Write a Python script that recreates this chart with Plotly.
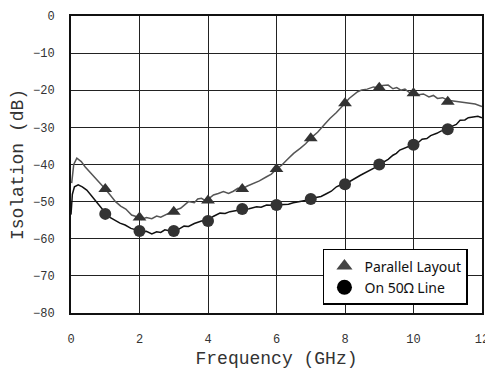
import plotly.graph_objects as go

# Parallel Layout (grey curve)
par_x = [0.02, 0.08, 0.17, 0.3, 0.41, 0.55, 0.7, 0.85, 1.0, 1.15, 1.3, 1.45, 1.6, 1.77, 1.9,
         2.06, 2.2, 2.36, 2.5, 2.62, 2.74, 2.9, 3.04, 3.2, 3.3, 3.43, 3.6, 3.7, 3.81, 3.9,
         4.0, 4.16, 4.3, 4.45, 4.6, 4.74, 4.87, 5.0, 5.15, 5.32, 5.5, 5.71, 5.85, 6.0, 6.15,
         6.3, 6.5, 6.7, 6.85, 7.0, 7.2, 7.4, 7.56, 7.75, 7.9, 8.0, 8.12, 8.24, 8.37, 8.49,
         8.65, 8.83, 9.0, 9.1, 9.26, 9.4, 9.51, 9.63, 9.75, 9.88, 10.0, 10.15, 10.29, 10.45,
         10.58, 10.7, 10.85, 11.0, 11.2, 11.36, 11.5, 11.65, 11.8, 12.0]
par_y = [-45.0, -40.0, -38.3, -39.2, -40.6, -42.0, -43.7, -45.0, -46.6, -48.3, -50.0, -51.2, -52.0, -53.6, -54.0,
         -54.8, -54.3, -54.6, -53.9, -54.2, -53.6, -53.0, -52.3, -51.8, -51.0, -50.0, -50.3, -49.3, -49.1, -49.6,
         -49.4, -48.2, -47.8, -47.3, -47.8, -47.2, -46.4, -46.5, -45.8, -45.1, -44.4, -43.3, -42.6, -41.2, -40.2,
         -38.8, -37.0, -35.6, -34.4, -32.9, -31.3, -29.2, -27.6, -26.0, -24.6, -23.5, -22.2, -21.3, -20.4, -19.9,
         -19.7, -19.1, -19.4, -18.7, -18.6, -19.6, -19.3, -20.0, -19.7, -20.6, -20.5, -21.2, -21.0, -21.8,
         -21.4, -22.2, -22.0, -22.7, -22.9, -23.1, -23.2, -23.5, -23.7, -24.4]

# On 50 Ohm Line (black curve)
l50_x = [0.0, 0.04, 0.1, 0.21, 0.33, 0.46, 0.58, 0.7, 0.85, 1.0, 1.15, 1.28, 1.43, 1.58, 1.75, 1.9,
         2.05, 2.2, 2.36, 2.5, 2.62, 2.74, 2.9, 3.0, 3.15, 3.3, 3.43, 3.6, 3.7, 3.81, 4.0, 4.15,
         4.35, 4.5, 4.64, 4.8, 5.0, 5.2, 5.42, 5.55, 5.71, 5.85, 6.0, 6.2, 6.35, 6.49, 6.7, 6.85,
         7.0, 7.15, 7.3, 7.47, 7.6, 7.75, 7.85, 8.0, 8.15, 8.3, 8.45, 8.6, 8.75, 8.9, 9.0, 9.12,
         9.26, 9.4, 9.5, 9.6, 9.75, 9.88, 10.0, 10.15, 10.25, 10.39, 10.5, 10.68, 10.8, 10.9, 11.0,
         11.15, 11.25, 11.36, 11.5, 11.6, 11.75, 11.88, 12.0]
l50_y = [-53.5, -48.0, -46.0, -45.5, -46.0, -46.9, -48.2, -49.6, -51.4, -53.0, -54.3, -55.0, -55.8, -56.3, -57.2, -57.6,
         -58.2, -58.0, -58.7, -58.1, -58.3, -57.6, -57.9, -57.7, -57.4, -56.6, -56.7, -55.9, -55.6, -55.2, -55.0, -54.0,
         -53.1, -53.2, -52.7, -52.4, -52.1, -51.9, -51.4, -51.5, -50.9, -51.0, -50.9, -50.6, -50.7, -50.3, -50.0, -49.7,
         -49.4, -48.9, -48.6, -47.8, -47.2, -46.0, -45.6, -45.3, -44.4, -43.7, -42.9, -42.2, -41.5, -40.7, -40.0, -39.4,
         -38.6, -37.5, -37.0, -36.1, -35.6, -35.0, -34.6, -34.0, -33.2, -33.0, -32.2, -31.6, -31.0, -30.8, -30.5,
         -29.6, -29.2, -28.1, -28.0, -27.4, -27.1, -27.0, -27.4]

# Markers at integer frequencies
mk_x = [1, 2, 3, 4, 5, 6, 7, 8, 9, 10, 11]
par_mk = [-46.6, -54.3, -52.7, -49.7, -46.6, -41.2, -32.9, -23.5, -19.3, -20.8, -23.1]
l50_mk = [-53.3, -57.9, -57.9, -55.2, -52.0, -50.9, -49.3, -45.3, -40.0, -34.7, -30.5]

x_ticks = [0, 2, 4, 6, 8, 10, 12]
y_ticks = [0, -10, -20, -30, -40, -50, -60, -70, -80]

fig = go.Figure()
fig.add_trace(go.Scatter(x=par_x, y=par_y, mode="lines",
                         line=dict(color="#555555", width=1.5), showlegend=False, hoverinfo="skip"))
fig.add_trace(go.Scatter(x=l50_x, y=l50_y, mode="lines",
                         line=dict(color="#111111", width=1.5), showlegend=False, hoverinfo="skip"))
fig.add_trace(go.Scatter(x=mk_x, y=par_mk, mode="markers",
                         marker=dict(symbol="triangle-up", size=12, color="#333333"), showlegend=False))
fig.add_trace(go.Scatter(x=mk_x, y=l50_mk, mode="markers",
                         marker=dict(symbol="circle", size=12, color="#333333"), showlegend=False))
# legend entries
fig.add_trace(go.Scatter(x=[None], y=[None], mode="markers", name="Parallel Layout",
                         marker=dict(symbol="triangle-up", size=14, color="#444444")))
fig.add_trace(go.Scatter(x=[None], y=[None], mode="markers", name="On 50\u03a9 Line",
                         marker=dict(symbol="circle", size=15, color="#000000")))

axis_font = dict(family="Liberation Mono, DejaVu Sans Mono, monospace", size=12, color="#333333")
title_font = dict(family="Liberation Mono, DejaVu Sans Mono, monospace", size=18, color="#333333")

# page body has an 8px default margin, so the figure is sized 8px smaller
fig.update_layout(
    width=485, height=361,
    margin=dict(l=63, r=11, t=8, b=56),
    paper_bgcolor="white", plot_bgcolor="white",
    showlegend=True,
    legend=dict(x=0.613, y=0.2155, xanchor="left", yanchor="top",
                bgcolor="white", bordercolor="#000000", borderwidth=1.5,
                font=dict(family="Noto Sans, Liberation Sans, sans-serif", size=14, color="#111111"),
                itemwidth=30, tracegroupgap=0),
    xaxis=dict(range=[0, 12], tickvals=x_ticks, ticktext=[str(v) for v in x_ticks],
               showgrid=True, gridcolor="#222222", gridwidth=1, zeroline=False,
               showline=True, linecolor="#111111", linewidth=2, mirror=True,
               ticks="", ticklabelstandoff=14, tickfont=axis_font, automargin=False,
               title=dict(text="Frequency (GHz)", font=title_font, standoff=6)),
    yaxis=dict(range=[-80, 0], tickvals=y_ticks, ticktext=[str(v).replace("-", "\u2212") for v in y_ticks],
               showgrid=True, gridcolor="#222222", gridwidth=1, zeroline=False,
               showline=True, linecolor="#111111", linewidth=2, mirror=True,
               ticks="", ticklabelstandoff=12, tickfont=axis_font, automargin=False,
               title=dict(text="Isolation (dB)", font=title_font, standoff=6)),
)

fig.write_html("out.html")
